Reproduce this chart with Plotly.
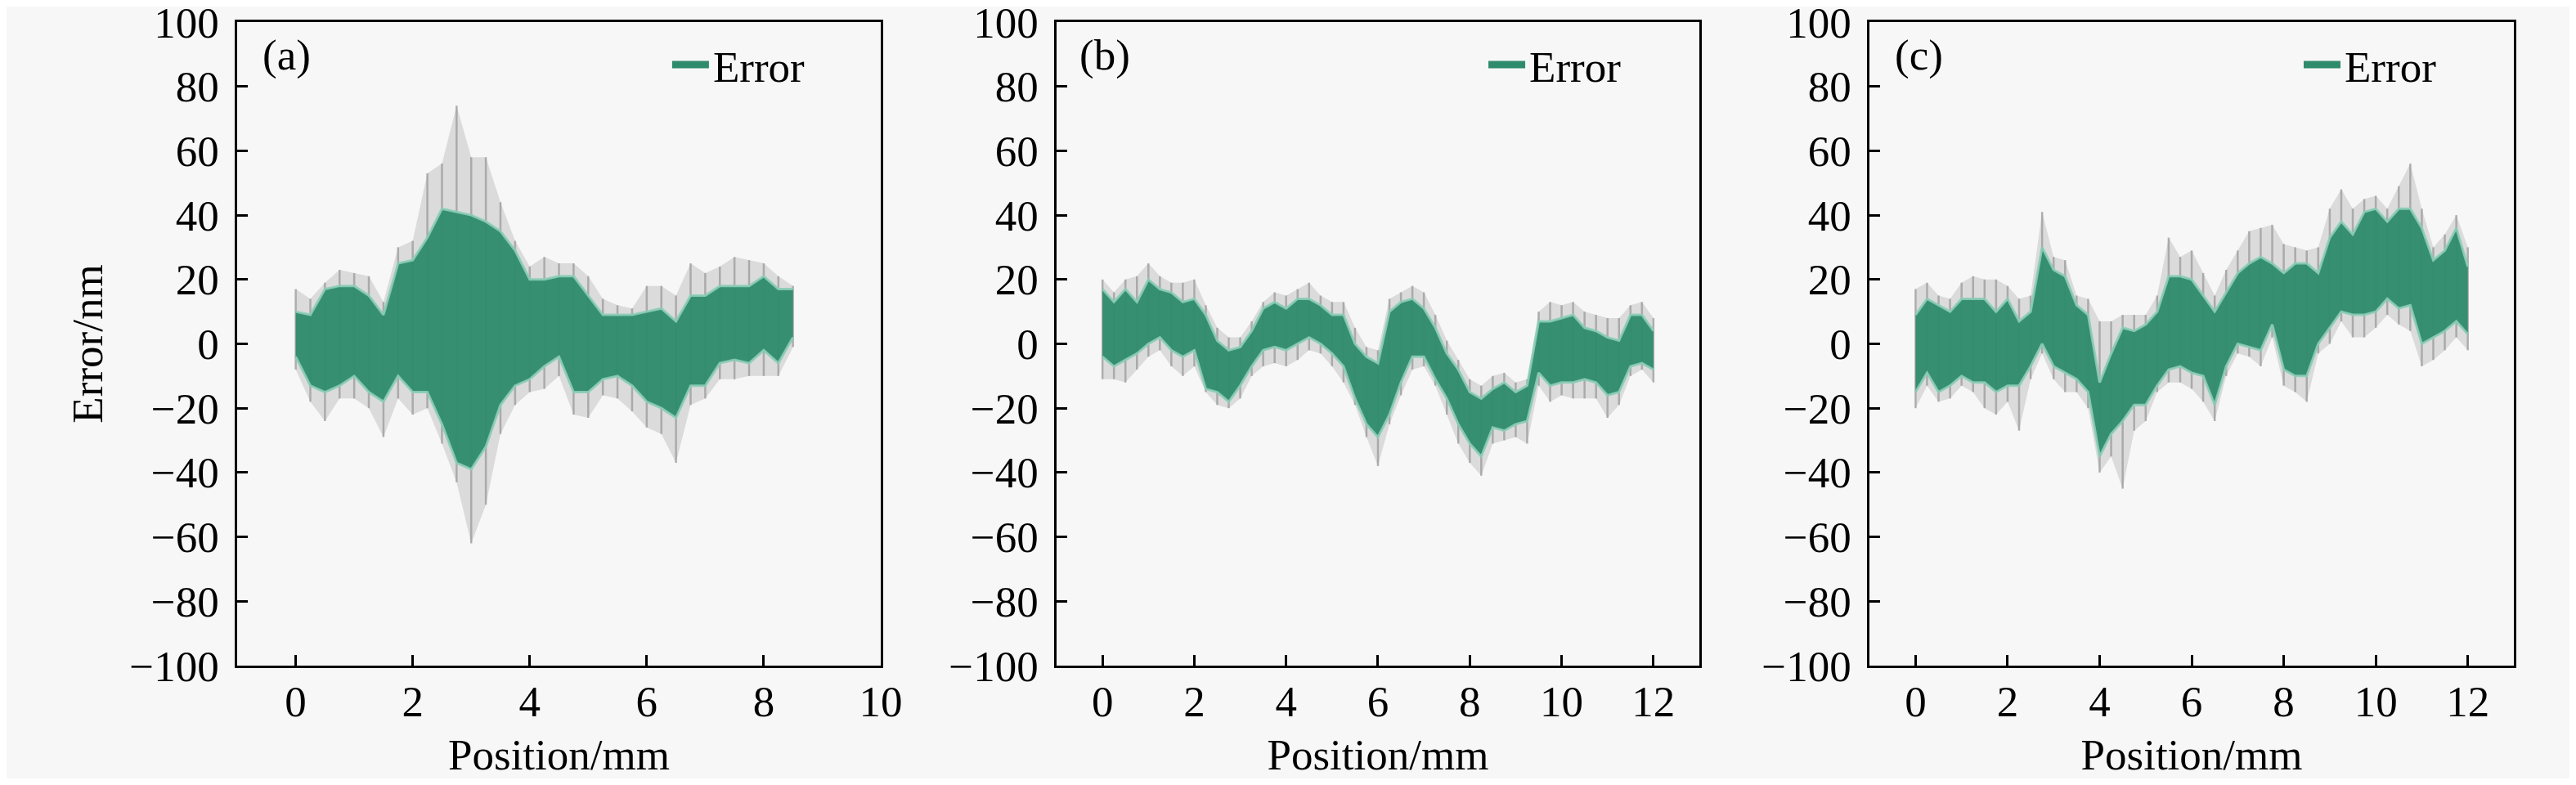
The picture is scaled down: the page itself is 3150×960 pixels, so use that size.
import plotly.graph_objects as go
from plotly.subplots import make_subplots

# sampled positions (mm)
pos_a = [0, 0.25, 0.5, 0.75, 1, 1.25, 1.5, 1.75, 2, 2.25, 2.5, 2.75, 3, 3.25, 3.5, 3.75, 4, 4.25,
         4.5, 4.75, 5, 5.25, 5.5, 5.75, 6, 6.25, 6.5, 6.75, 7, 7.25, 7.5, 7.75, 8, 8.25, 8.5]
pos_bc = [0, 0.25, 0.5, 0.75, 1, 1.25, 1.5, 1.75, 2, 2.25, 2.5, 2.75, 3, 3.25, 3.5, 3.75, 4, 4.25,
          4.5, 4.75, 5, 5.25, 5.5, 5.75, 6, 6.25, 6.5, 6.75, 7, 7.25, 7.5, 7.75, 8, 8.25, 8.5,
          8.75, 9, 9.25, 9.5, 9.75, 10, 10.25, 10.5, 10.75, 11, 11.25, 11.5, 11.75, 12]

# (a) error envelope, nm
gray_hi_a = [17, 14, 19, 23, 22, 21, 13, 30, 32, 53, 56, 74, 58, 58, 44, 32, 24, 27, 25,
             25, 21, 14, 12, 11, 18, 18, 15, 25, 22, 24, 27, 26, 25, 21, 18]
green_hi_a = [10, 9, 17, 18, 18, 15, 9, 25, 26, 33, 42, 41, 40, 38, 35, 29, 20, 20, 21,
              21, 15, 9, 9, 9, 10, 11, 7, 15, 15, 18, 18, 18, 21, 17, 17]
green_lo_a = [-4, -13, -15, -13, -10, -15, -18, -10, -15, -15, -25, -37, -39, -32, -19, -13, -11, -7, -4,
              -15, -15, -11, -10, -13, -18, -20, -23, -13, -13, -6, -5, -6, -2, -6, 2]
gray_lo_a = [-8, -18, -24, -17, -17, -20, -29, -17, -22, -20, -31, -43, -62, -50, -28, -19, -15, -14, -10,
             -22, -23, -16, -17, -21, -26, -28, -37, -19, -17, -11, -11, -10, -10, -10, -1]

# (b)
gray_hi_b = [20, 16, 20, 21, 25, 21, 19, 19, 20, 12, 5, 2, 2, 7, 13, 16, 15, 17, 19, 15, 13, 13, 5, -1, -2,
             14, 16, 18, 16, 9, 1, -5, -11, -13, -10, -9, -12, -11, 10, 13, 12, 13, 10, 9, 8, 8, 12, 13, 8]
green_hi_b = [17, 13, 17, 13, 20, 17, 16, 13, 14, 9, 1, -2, -1, 4, 11, 13, 11, 14, 14, 12, 9, 9, 0, -4, -6,
              10, 13, 14, 11, 5, -3, -8, -15, -17, -14, -12, -15, -13, 7, 7, 8, 9, 5, 4, 2, 1, 9, 9, 4]
green_lo_b = [-4, -7, -5, -3, 0, 2, -2, -4, -2, -14, -15, -18, -13, -7, -2, -1, -2, 0, 2, 0, -3, -7, -17, -25, -29,
              -22, -12, -4, -4, -11, -17, -25, -31, -35, -26, -27, -25, -24, -9, -13, -12, -12, -11, -12, -16, -15, -7, -6, -8]
gray_lo_b = [-11, -11, -12, -8, -4, -2, -7, -10, -7, -15, -19, -20, -17, -10, -7, -6, -7, -5, -2, -3, -7, -12, -19, -29, -38,
             -25, -16, -8, -7, -13, -22, -31, -37, -41, -31, -30, -29, -31, -13, -18, -16, -17, -17, -17, -23, -19, -10, -8, -12]

# (c)
gray_hi_c = [17, 19, 15, 14, 19, 21, 20, 20, 18, 14, 15, 41, 27, 26, 15, 14, 7, 7, 9, 9, 9, 15, 33, 27, 29,
             22, 15, 23, 29, 35, 36, 37, 31, 30, 29, 30, 42, 48, 42, 45, 46, 42, 49, 56, 42, 30, 34, 40, 30]
green_hi_c = [9, 14, 12, 10, 14, 14, 14, 10, 14, 7, 10, 30, 23, 21, 12, 9, -12, -3, 5, 4, 6, 10, 21, 21, 20,
              15, 10, 16, 22, 25, 27, 25, 22, 25, 25, 22, 33, 38, 34, 41, 42, 38, 42, 42, 36, 26, 29, 36, 24]
green_lo_c = [-15, -9, -15, -13, -10, -12, -12, -15, -13, -13, -7, 0, -7, -9, -11, -15, -35, -28, -24, -19, -19, -13, -8, -7, -9,
              -10, -19, -7, 0, -1, -2, 6, -8, -10, -10, 0, 5, 10, 9, 9, 10, 14, 11, 12, 0, 2, 4, 7, 3]
gray_lo_c = [-20, -13, -18, -17, -13, -15, -20, -22, -18, -27, -11, -3, -11, -15, -15, -20, -40, -35, -45, -27, -24, -15, -12, -12, -14,
             -18, -24, -10, -3, -4, -7, 2, -13, -15, -18, -3, 0, 7, 2, 2, 5, 9, 6, 4, -7, -5, -2, 2, -2]

panel_labels = ['(a)', '(b)', '(c)']
x_ranges = [[-1, 10], [-1, 13], [-1, 13]]

FONT = 'Liberation Serif'
GREEN = 'rgba(46,139,108,0.95)'
MINT = 'rgba(140,205,182,0.9)'
GRAY = 'rgba(185,185,185,0.45)'
SPIKE = 'rgba(150,150,150,0.7)'

fig = make_subplots(rows=1, cols=3)

panels = [
    (pos_a, gray_hi_a, green_hi_a, green_lo_a, gray_lo_a),
    (pos_bc, gray_hi_b, green_hi_b, green_lo_b, gray_lo_b),
    (pos_bc, gray_hi_c, green_hi_c, green_lo_c, gray_lo_c),
]

legend_names = ['legend', 'legend2', 'legend3']

for i, (x, ghi, hi, lo, glo) in enumerate(panels):
    c = i + 1
    # lichte grijze band
    fig.add_trace(go.Scatter(x=x, y=glo, mode='lines', line=dict(width=0),
                             showlegend=False, hoverinfo='skip'), row=1, col=c)
    fig.add_trace(go.Scatter(x=x, y=ghi, mode='lines', line=dict(width=0), fill='tonexty',
                             fillcolor=GRAY, showlegend=False, hoverinfo='skip'), row=1, col=c)
    # grijze pieken als foutbalken
    mid = [(a + b) / 2 for a, b in zip(hi, lo)]
    fig.add_trace(go.Scatter(x=x, y=mid, mode='none', showlegend=False, hoverinfo='skip',
                             error_y=dict(type='data', symmetric=False,
                                          array=[g - m for g, m in zip(ghi, mid)],
                                          arrayminus=[m - g for g, m in zip(glo, mid)],
                                          color=SPIKE, thickness=2.5, width=0)), row=1, col=c)
    # groene band met lichte rand
    fig.add_trace(go.Scatter(x=x, y=lo, mode='lines', line=dict(width=3, color=MINT),
                             showlegend=False, hoverinfo='skip'), row=1, col=c)
    fig.add_trace(go.Scatter(x=x, y=hi, mode='lines', line=dict(width=3, color=MINT), fill='tonexty',
                             fillcolor=GREEN, showlegend=False, hoverinfo='skip'), row=1, col=c)
    # legenda item
    fig.add_trace(go.Scatter(x=[None], y=[None], mode='lines', line=dict(color='#2e8b6c', width=9),
                             name='Error', legend=legend_names[i]), row=1, col=c)

# plot gebieden (figuur 3134x944, pagina heeft 8px marge)
x_domains = [[0.0900, 0.3411], [0.4097, 0.6605], [0.7269, 0.9783]]
y_domain = [0.1462, 0.9799]

axis_style = dict(showline=True, linecolor='black', linewidth=2.5, mirror=True,
                  ticks='inside', ticklen=13, tickwidth=2.5, tickcolor='black',
                  showgrid=False, zeroline=False, ticklabeloverflow='allow', automargin=False,
                  tickfont=dict(family=FONT, size=53, color='black'))

for i in range(3):
    c = i + 1
    fig.update_xaxes(domain=x_domains[i], range=x_ranges[i], dtick=2, tick0=0, ticklabelstandoff=-4,
                     title=dict(text='Position/mm', font=dict(family=FONT, size=53, color='black'), standoff=32),
                     **axis_style, row=1, col=c)
    fig.update_yaxes(domain=y_domain, range=[-100, 100], dtick=20, tick0=0, ticklabelstandoff=9,
                     **axis_style, row=1, col=c)

fig.update_yaxes(title=dict(text='Error/nm', font=dict(family=FONT, size=53, color='black'), standoff=16), row=1, col=1)

legend_x = [0.2581, 0.5766, 0.8947]
legend_style = dict(y=0.9248, xanchor='left', yanchor='middle', bgcolor='rgba(0,0,0,0)',
                    font=dict(family=FONT, size=53, color='black'), itemwidth=45)
fig.update_layout(legend=dict(x=legend_x[0], **legend_style),
                  legend2=dict(x=legend_x[1], **legend_style),
                  legend3=dict(x=legend_x[2], **legend_style))

label_x = [0.0992, 0.4180, 0.7361]
for i in range(3):
    fig.add_annotation(text=panel_labels[i], x=label_x[i], y=0.9375, xref='paper', yref='paper',
                       xanchor='left', yanchor='middle', showarrow=False,
                       font=dict(family=FONT, size=53, color='black'))

fig.update_layout(width=3134, height=944, margin=dict(l=0, r=0, t=0, b=0),
                  paper_bgcolor='#f7f7f7', plot_bgcolor='#f7f7f7',
                  font=dict(family=FONT, color='black'))

fig.write_html("out.html")
